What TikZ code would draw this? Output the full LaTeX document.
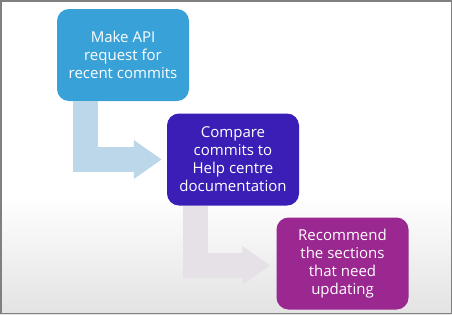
\documentclass[tikz,border=0pt]{standalone}
\usepackage{fontspec}
\setmainfont{Open Sans}
\usetikzlibrary{arrows.meta}
\definecolor{boxA}{HTML}{38A2D8}
\definecolor{boxB}{HTML}{3A1EB6}
\definecolor{boxC}{HTML}{9B2790}
\definecolor{arrA}{HTML}{BCD6EA}
\definecolor{arrB}{HTML}{E6E1E6}
\definecolor{frameC}{HTML}{808080}
\tikzset{
  stepbox/.style={rounded corners=12pt, minimum width=132pt, minimum height=92pt,
    inner sep=0pt, align=center, text=white,
    font=\fontsize{15}{18}\selectfont},
  blockarrow/.style={line width=25pt, line join=miter,
    -{Triangle[length=28pt,width=37pt]}, shorten >=5pt}
}
\begin{document}
\begin{tikzpicture}[x=1pt,y=-1pt]
\useasboundingbox (0,0) rectangle (452,314);
\fill[white] (0,0) rectangle (452,314);
\shade[top color=white, bottom color=gray!22] (0,195) rectangle (452,314);
\node[stepbox, fill=boxA] (b1) at (123,55) {Make API\\request for\\recent commits};
\node[stepbox, fill=boxB] (b2) at (233,159.5) {Compare\\commits to\\Help centre\\documentation};
\node[stepbox, fill=boxC] (b3) at (342.5,263.5) {Recommend\\the sections\\that need\\updating};
\coordinate (a1) at (85.5,0);
\coordinate (a2) at (195.5,0);
\draw[blockarrow, arrA] (b1.south -| a1) |- (b2.west);
\draw[blockarrow, arrB, shorten >=6pt] (b2.south -| a2) |- ([yshift=-2pt]b3.west);
\draw[frameC, line width=1.5pt] (0.75,0.75) rectangle (451.25,313.25);
\end{tikzpicture}
\end{document}
